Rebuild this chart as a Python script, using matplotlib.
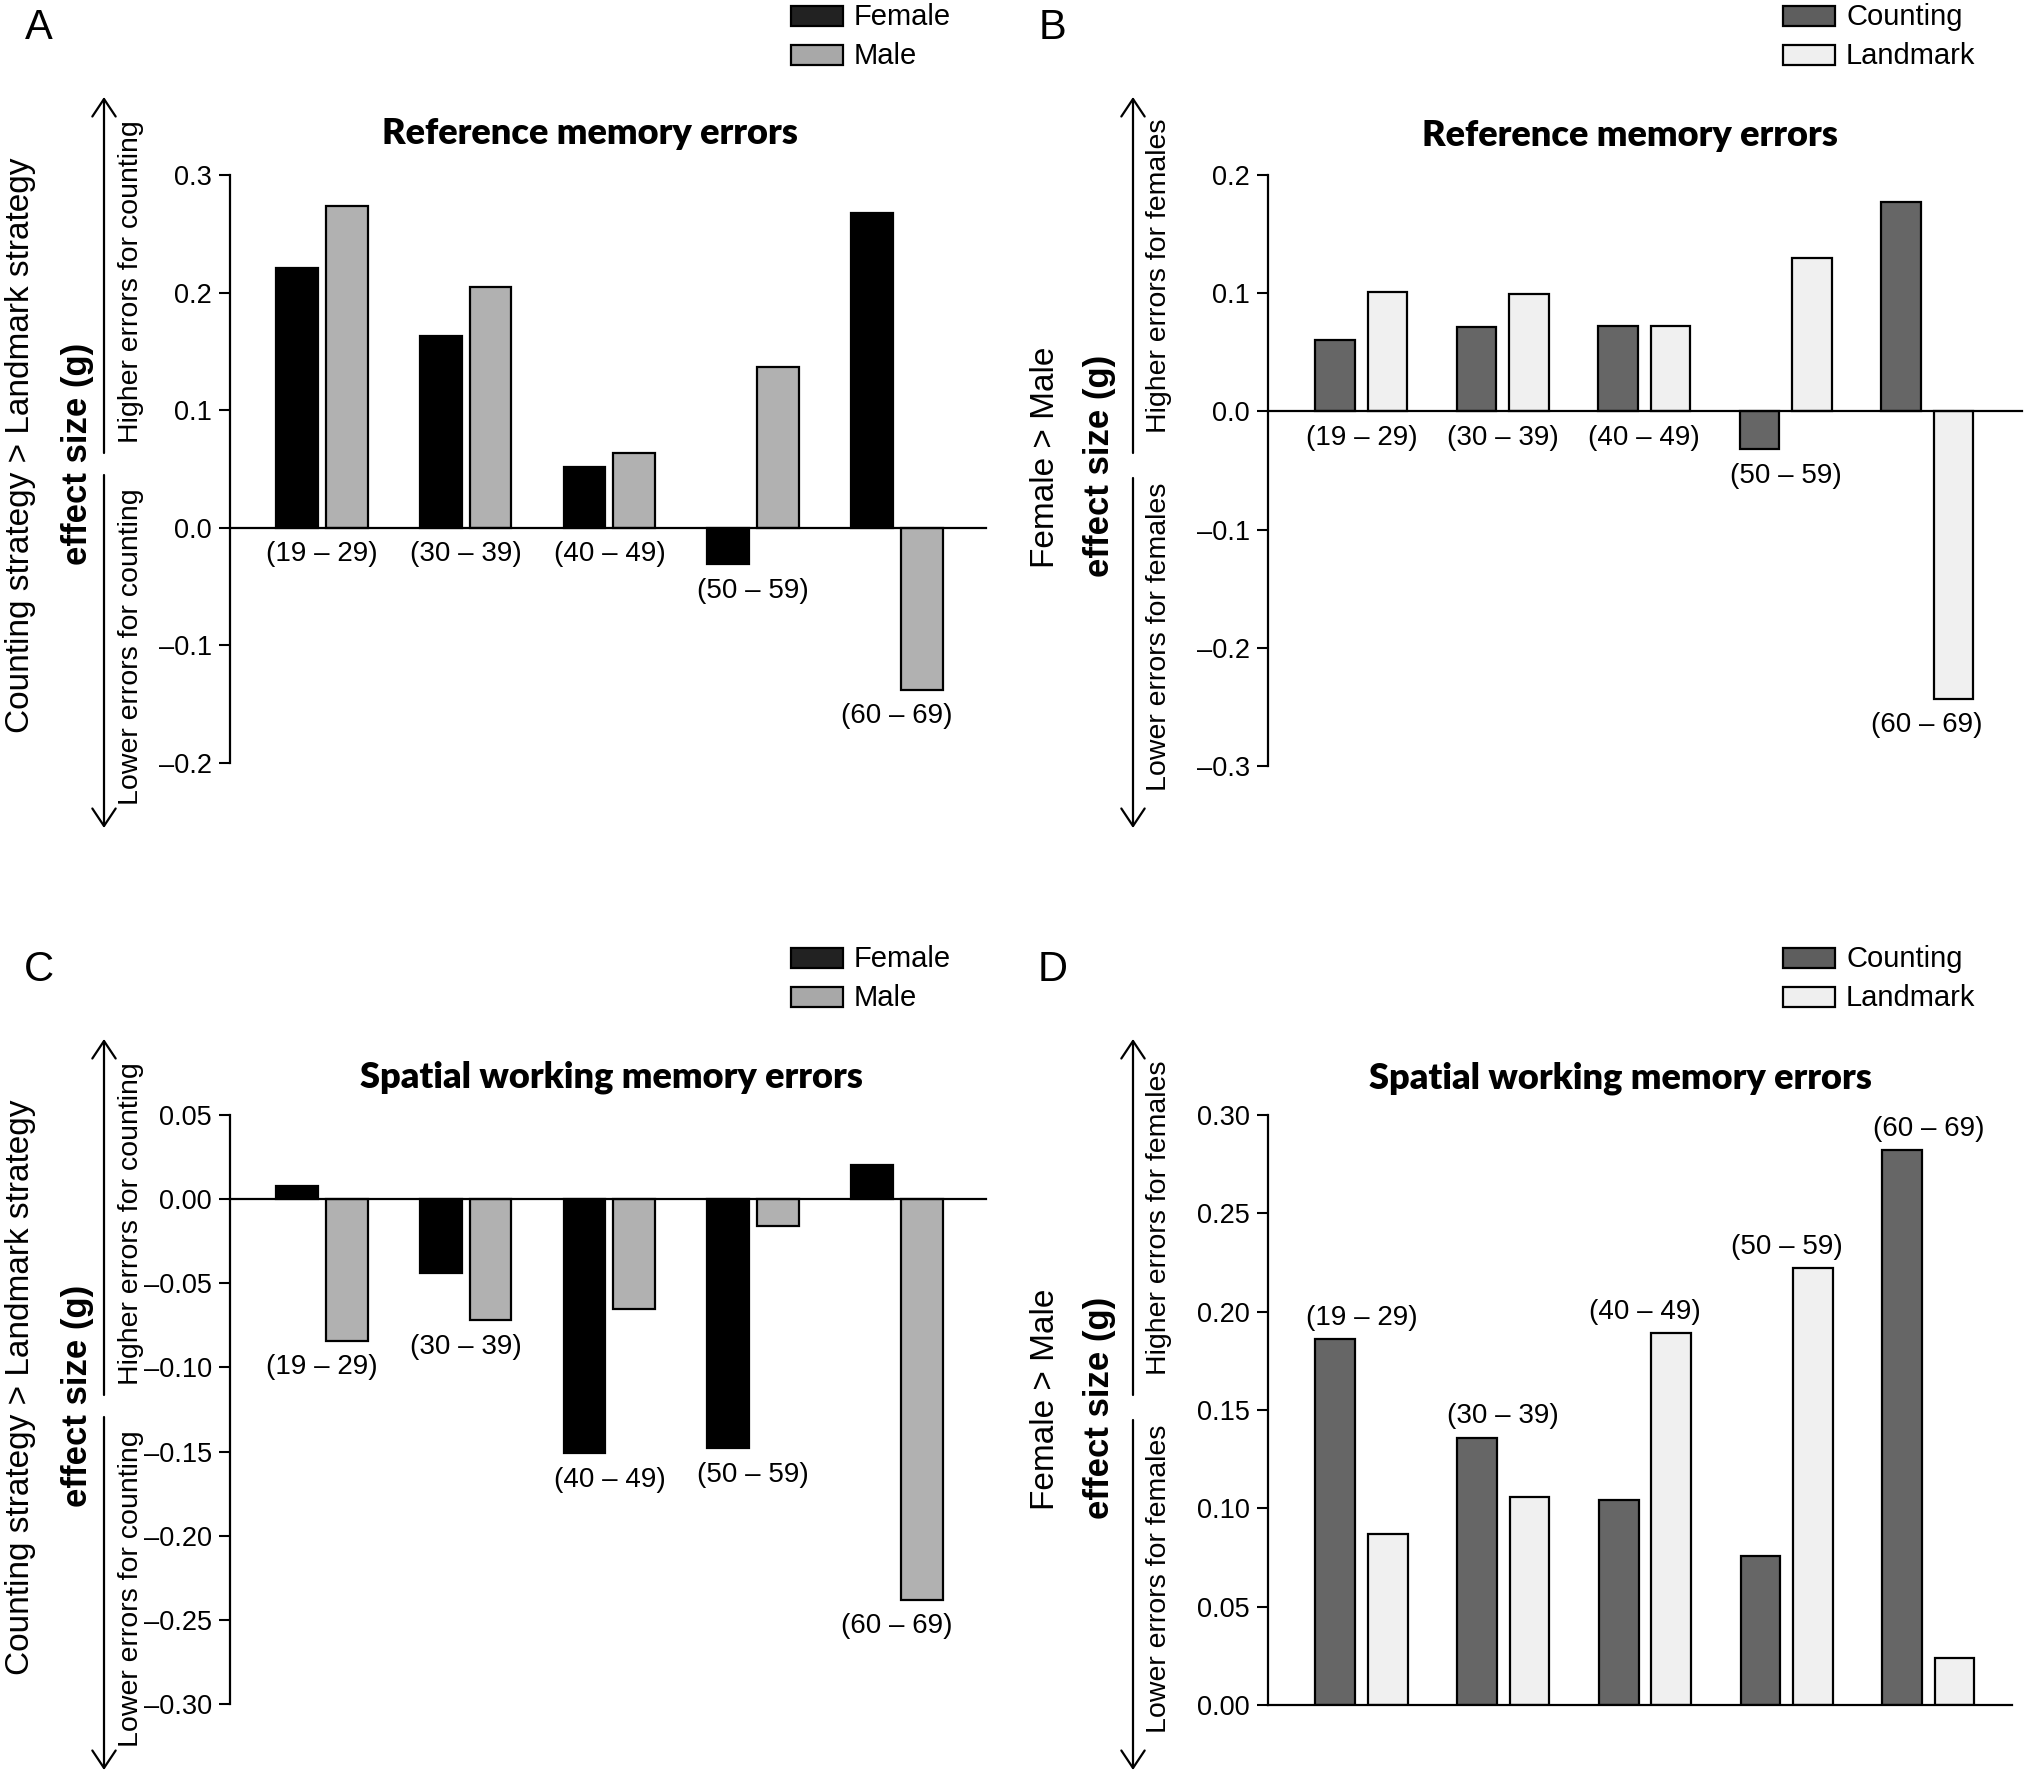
import numpy as np
import matplotlib
matplotlib.use("Agg")
import matplotlib.pyplot as plt
from matplotlib.patches import Rectangle, FancyArrowPatch
from matplotlib.ticker import FuncFormatter

plt.rcParams['font.family'] = ['Liberation Sans', 'DejaVu Sans']

W, H = 2029, 1777

groups = ["(19 – 29)", "(30 – 39)", "(40 – 49)", "(50 – 59)", "(60 – 69)"]

# reference memory errors
ref_female = [0.221, 0.163, 0.052, -0.031, 0.268]
ref_male = [0.274, 0.205, 0.064, 0.137, -0.138]
ref_counting = [0.060, 0.071, 0.072, -0.032, 0.177]
ref_landmark = [0.101, 0.099, 0.072, 0.130, -0.243]

# spatial working memory errors
swm_female = [0.008, -0.044, -0.151, -0.148, 0.020]
swm_male = [-0.084, -0.072, -0.065, -0.016, -0.238]
swm_counting = [0.186, 0.136, 0.104, 0.076, 0.282]
swm_landmark = [0.087, 0.106, 0.189, 0.222, 0.024]

c_female, c_male = "#000000", "#b1b1b1"
c_count, c_land = "#666666", "#f0f0f0"


def fx(x):
    return x / W


def fy(y):
    return 1 - y / H


fig = plt.figure(figsize=(W / 100, H / 100), dpi=100)


def dash_fmt(nd):
    def f(v, pos):
        s = f"{abs(v):.{nd}f}"
        return ("\u2013" + s) if v < -1e-9 else s
    return FuncFormatter(f)


def panel(box, v1, v2, cols, ylim, ticks, nd, xlim, width, off, above):
    l, r, t, b = box
    ax = fig.add_axes([fx(l), fy(b), fx(r) - fx(l), fy(t) - fy(b)])
    x = np.arange(len(groups))
    ax.bar(x - off, v1, width, color=cols[0], edgecolor="black", linewidth=1.6, zorder=2)
    ax.bar(x + off, v2, width, color=cols[1], edgecolor="black", linewidth=1.6, zorder=2)
    ax.set_xlim(*xlim)
    ax.set_ylim(*ylim)
    ax.set_yticks(ticks)
    ax.yaxis.set_major_formatter(dash_fmt(nd))
    ax.set_xticks([])
    for s in ["top", "right"]:
        ax.spines[s].set_visible(False)
    ax.spines["bottom"].set_position(("data", 0))
    ax.spines["bottom"].set_linewidth(1.6)
    ax.spines["left"].set_linewidth(1.6)
    ax.spines["bottom"].set_zorder(3)
    ax.tick_params(axis="y", direction="out", length=8, width=1.5, labelsize=19.5, pad=5)
    for i, g in enumerate(groups):
        if above:
            y0 = max(v1[i], v2[i], 0)
            dy = 15.5
        else:
            y0 = min(v1[i], v2[i], 0)
            dy = -19
        ax.annotate(g, (x[i], y0), xytext=(0, dy), textcoords="offset points",
                    ha="center", va="center", fontsize=20)
    return ax


def side(xs, yc, big, arrow_x, top_y, gap0, gap1, bot_y, hi, lo, hi_y, lo_y):
    fig.text(fx(xs[0]), fy(yc), big, rotation=90, ha="center", va="center", fontsize=24)
    fig.text(fx(xs[1]), fy(yc + 9), "effect size (g)", rotation=90, ha="center", va="center",
             fontsize=25, fontweight="bold")
    fig.text(fx(xs[2]), fy(hi_y), hi, rotation=90, ha="center", va="center", fontsize=20.5)
    fig.text(fx(xs[2]), fy(lo_y), lo, rotation=90, ha="center", va="center", fontsize=20.5)
    for ya, yb in [(gap0, top_y), (gap1, bot_y)]:
        a = FancyArrowPatch((fx(arrow_x), fy(ya)), (fx(arrow_x), fy(yb)),
                            transform=fig.transFigure, arrowstyle="->,head_length=0.45,head_width=0.3",
                            mutation_scale=28, lw=1.6, color="black", shrinkA=0, shrinkB=0)
        fig.add_artist(a)


def legend(px, py, labels, cols):
    for k, (lab, c) in enumerate(zip(labels, cols)):
        yy = py + k * 39
        rect = Rectangle((fx(px - 26), fy(yy + 10)), fx(52), 20 / H, transform=fig.transFigure,
                         facecolor=c, edgecolor="black", linewidth=1.6)
        fig.add_artist(rect)
        fig.text(fx(px + 37), fy(yy + 1), lab, ha="left", va="center", fontsize=21)


def title(xc, yc, s):
    fig.text(fx(xc), fy(yc), s, ha="center", va="center", fontsize=26,
             fontweight="heavy", family=["Lato", "DejaVu Sans"])


def letter(xc, yc, s):
    fig.text(fx(xc), fy(yc), s, ha="center", va="center", fontsize=30)


dy = 942

# A
panel((230, 986, 175, 763), ref_female, ref_male, (c_female, c_male), (-0.2, 0.3),
      [-0.2, -0.1, 0.0, 0.1, 0.2, 0.3], 1, (-0.64, 4.62), 0.29, 0.173, False)
title(590, 133, "Reference memory errors")
side((21, 78, 131), 445, "Counting strategy > Landmark strategy", 104, 97, 453, 475, 828,
     "Higher errors for counting", "Lower errors for counting", 282, 647)
legend(817, 16, ["Female", "Male"], ["#222222", "#a8a8a8"])
letter(39, 28, "A")

# B
panel((1268, 2022, 175, 766), ref_counting, ref_landmark, (c_count, c_land), (-0.3, 0.2),
      [-0.3, -0.2, -0.1, 0.0, 0.1, 0.2], 1, (-0.66, 4.67), 0.28, 0.185, False)
title(1630, 135, "Reference memory errors")
side((1046, 1100, 1159), 457, "Female > Male", 1133, 97, 453, 478, 828,
     "Higher errors for females", "Lower errors for females", 276, 637)
legend(1809, 16, ["Counting", "Landmark"], ["#5e5e5e", "#efefef"])
letter(1053, 28, "B")

# C
panel((230, 986, 1115, 1704), swm_female, swm_male, (c_female, c_male), (-0.30, 0.05),
      [-0.30, -0.25, -0.20, -0.15, -0.10, -0.05, 0.00, 0.05], 2, (-0.64, 4.62), 0.29, 0.173,
      False)
title(611, 1077, "Spatial working memory errors")
side((21, 78, 131), 445 + dy, "Counting strategy > Landmark strategy", 104, 97 + dy, 453 + dy,
     475 + dy, 828 + dy, "Higher errors for counting", "Lower errors for counting",
     282 + dy, 647 + dy)
legend(817, 16 + dy, ["Female", "Male"], ["#222222", "#a8a8a8"])
letter(39, 28 + dy, "C")

# D
panel((1268, 2012, 1115, 1705), swm_counting, swm_landmark, (c_count, c_land), (0.0, 0.30),
      [0.00, 0.05, 0.10, 0.15, 0.20, 0.25, 0.30], 2, (-0.66, 4.59), 0.28, 0.185, True)
title(1620, 1078, "Spatial working memory errors")
side((1046, 1100, 1159), 457 + dy, "Female > Male", 1133, 97 + dy, 453 + dy, 478 + dy, 828 + dy,
     "Higher errors for females", "Lower errors for females", 276 + dy, 637 + dy)
legend(1809, 16 + dy, ["Counting", "Landmark"], ["#5e5e5e", "#efefef"])
letter(1053, 28 + dy, "D")

fig.savefig("out.png", dpi=100)
